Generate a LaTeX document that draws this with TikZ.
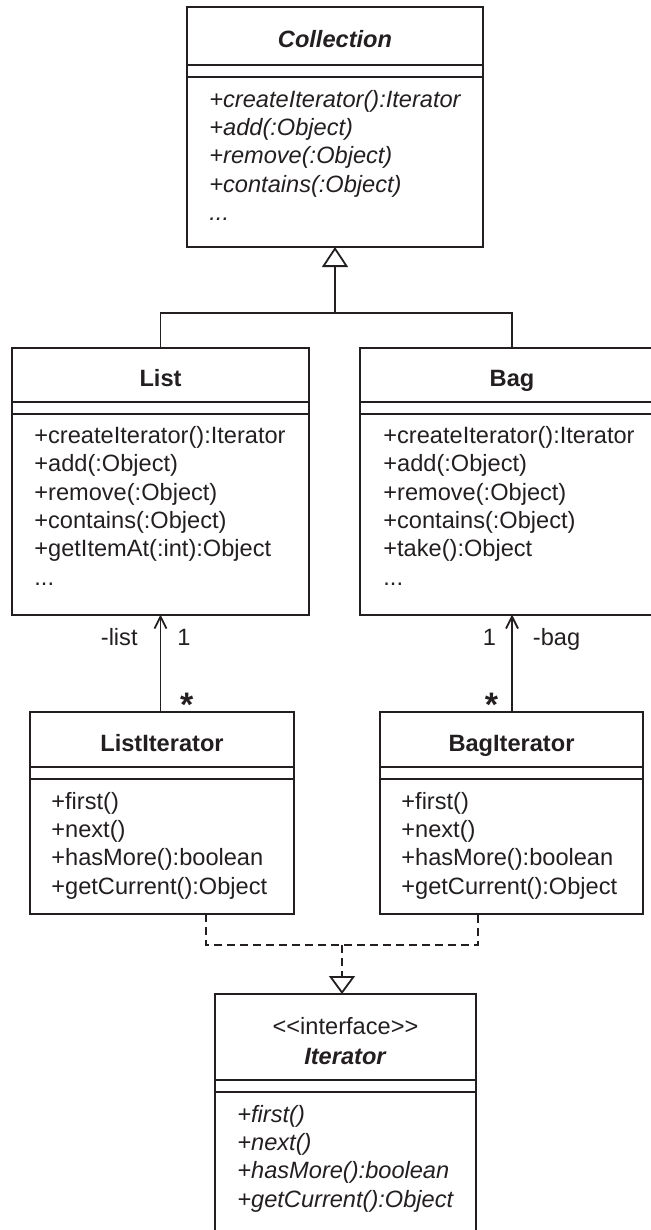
\documentclass[tikz,border=0pt]{standalone}
\usepackage{fontspec}
\setsansfont{Liberation Sans}
\usetikzlibrary{arrows.meta, positioning, calc}
\definecolor{ink}{RGB}{35,31,32}

\begin{document}
\begin{tikzpicture}[x=0.5pt, y=-0.5pt, node distance=0pt,
    every node/.style={text=ink, font=\sffamily\fontsize{11.8}{14.15}\selectfont},
    classname/.style={draw=ink, line width=1pt, inner sep=0pt, outer sep=0pt,
      anchor=north, text height=12pt, text depth=0pt,
      font=\sffamily\bfseries\fontsize{11.8}{14.15}\selectfont},
    classattr/.style={draw=ink, line width=1pt, inner sep=0pt, outer sep=0pt,
      minimum height=6pt},
    classops/.style={draw=ink, line width=1pt, inner sep=0pt, outer sep=0pt},
    opstext/.style={anchor=north west, inner sep=0pt, align=left},
    conn/.style={draw=ink, line width=0.9pt},
    realize/.style={conn, dash pattern=on 4pt off 2.5pt},
    role/.style={inner sep=0pt},
    many/.style={inner sep=0pt, font=\sffamily\bfseries\fontsize{17}{20}\selectfont}]
  \useasboundingbox (0,0) rectangle (650,1230);

  % Collection
  \node[classname, minimum width=148pt, minimum height=29pt,
        font=\sffamily\bfseries\itshape\fontsize{11.8}{14.15}\selectfont]
    (colltitle) at (335,7) {Collection};
  \node[classattr, minimum width=148pt, below=of colltitle] (collattr) {};
  \node[classops, minimum width=148pt, minimum height=85pt,
        below=of collattr] (collops) {};
  \node[opstext, font=\sffamily\itshape\fontsize{11.8}{14.15}\selectfont]
    (colltext) at ($(collops.north west)+(22,9.9)$)
    {\strut+createIterator():Iterator\\+add(:Object)\\+remove(:Object)\\
     +contains(:Object)\\...};

  % List and Bag
  \node[classname, minimum width=148.5pt, minimum height=27pt]
    (listtitle) at (160.5,347.5) {List};
  \node[classattr, minimum width=148.5pt, below=of listtitle] (listattr) {};
  \node[classops, minimum width=148.5pt, minimum height=100.5pt,
        below=of listattr] (listops) {};
  \node[opstext] (listtext) at ($(listops.north west)+(22,9.9)$)
    {\strut+createIterator():Iterator\\+add(:Object)\\+remove(:Object)\\
     +contains(:Object)\\+getItemAt(:int):Object\\...};

  \node[classname, minimum width=152pt, minimum height=27pt]
    (bagtitle) at (512,347.5) {Bag};
  \node[classattr, minimum width=152pt, below=of bagtitle] (bagattr) {};
  \node[classops, minimum width=152pt, minimum height=100.5pt,
        below=of bagattr] (bagops) {};
  \node[opstext] (bagtext) at ($(bagops.north west)+(23,9.9)$)
    {\strut+createIterator():Iterator\\+add(:Object)\\+remove(:Object)\\
     +contains(:Object)\\+take():Object\\...};

  % iterators
  \node[classname, minimum width=132pt, minimum height=27.5pt]
    (listittitle) at (162,712) {ListIterator};
  \node[classattr, minimum width=132pt, below=of listittitle] (listitattr) {};
  \node[classops, minimum width=132pt, minimum height=67.5pt,
        below=of listitattr] (listitops) {};
  \node[opstext] (listittext) at ($(listitops.north west)+(21,9.9)$)
    {\strut+first()\\+next()\\+hasMore():boolean\\+getCurrent():Object};

  \node[classname, minimum width=131.5pt, minimum height=27.5pt]
    (bagittitle) at (511.5,712) {BagIterator};
  \node[classattr, minimum width=131.5pt, below=of bagittitle] (bagitattr) {};
  \node[classops, minimum width=131.5pt, minimum height=67.5pt,
        below=of bagitattr] (bagitops) {};
  \node[opstext] (bagittext) at ($(bagitops.north west)+(21,9.9)$)
    {\strut+first()\\+next()\\+hasMore():boolean\\+getCurrent():Object};

  % Iterator interface
  \node[classname, minimum width=130.5pt, minimum height=43pt, align=center,
        text height=, text depth=,
        font=\sffamily\fontsize{11.8}{15}\selectfont]
    (ittitle) at (345.5,994)
    {\rule{0pt}{13pt}<{}<interface>{}>\\\textbf{\textit{Iterator}}};
  \node[classattr, minimum width=130.5pt, below=of ittitle] (itattr) {};
  \node[classops, minimum width=130.5pt, minimum height=76.5pt,
        below=of itattr] (itops) {};
  \node[opstext, font=\sffamily\itshape\fontsize{11.8}{14.15}\selectfont]
    (ittext) at ($(itops.north west)+(22,9.9)$)
    {\strut+first()\\+next()\\+hasMore():boolean\\+getCurrent():Object};

  % generalization
  \coordinate (genjoin) at ($(collops.south)+(0,66)$);
  \draw[conn] (listtitle.north) |- (genjoin) -| (bagtitle.north);
  \draw[conn, -{Triangle[open, length=10pt, width=13pt]}]
    (genjoin) -- (collops.south);

  % associations
  \draw[conn, -{Straight Barb[length=6pt, width=6pt]}]
    (listops.south |- listittitle.north) -- (listops.south)
    node[role, pos=0.684, anchor=base east, xshift=-11pt] (listrole) {-list}
    node[role, pos=0.684, anchor=base west, xshift=8pt] (listmult) {1}
    node[many, pos=0, anchor=south west, xshift=9.3pt, yshift=-2.75pt] (listitmult) {*};
  \draw[conn, -{Straight Barb[length=6pt, width=6pt]}]
    (bagops.south |- bagittitle.north) -- (bagops.south)
    node[role, pos=0.684, anchor=base east, xshift=-7.5pt] (bagmult) {1}
    node[role, pos=0.684, anchor=base west, xshift=10pt] (bagrole) {-bag}
    node[many, pos=0, anchor=south east, xshift=-6.5pt, yshift=-2.75pt] (bagitmult) {*};

  % realization
  \coordinate (listreal) at ($(listitops.south)+(44,0)$);
  \coordinate (bagreal) at ($(bagitops.south)+(-33.5,0)$);
  \coordinate (realjoin) at ($(listreal)+(136,31)$);
  \draw[realize] (listreal) |- (realjoin) -| (bagreal);
  \draw[realize, -{Triangle[open, length=9pt, width=13pt]}]
    (realjoin) -- (realjoin |- ittitle.north);
\end{tikzpicture}
\end{document}
